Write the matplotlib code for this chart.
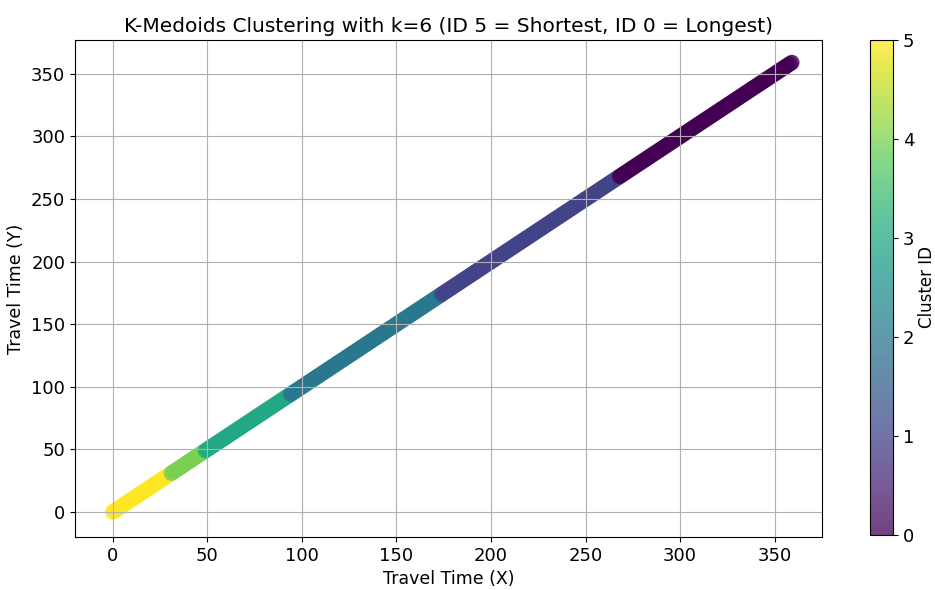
import numpy as np
import matplotlib
matplotlib.use("Agg")
import matplotlib.pyplot as plt

# cluster id -> range of travel times (start, end)
cluster_ids = [5, 4, 3, 2, 1, 0]
range_start = [0, 31, 49, 94, 174, 268]
range_end = [30, 48, 93, 173, 267, 359]

travel_x = []
labels = []
for cid, a, b in zip(cluster_ids, range_start, range_end):
    vals = np.arange(a, b + 1)
    travel_x.extend(vals)
    labels.extend([cid] * len(vals))
travel_x = np.array(travel_x, dtype=float)
travel_y = travel_x.copy()
labels = np.array(labels)

plt.rcParams["font.size"] = 13

fig = plt.figure(figsize=(9.35, 5.9), dpi=100)
ax = fig.add_axes([75 / 935, 53 / 590, 747 / 935, 497 / 590])
cax = fig.add_axes([870 / 935, 55 / 590, 23 / 935, 495 / 590])
sc = ax.scatter(travel_x, travel_y, c=labels, cmap="viridis", s=105,
                alpha=0.75, vmin=0, vmax=5)
cbar = fig.colorbar(sc, cax=cax)
cbar.set_label("Cluster ID", fontsize=12, labelpad=3)
ax.set_title("K-Medoids Clustering with k=6 (ID 5 = Shortest, ID 0 = Longest)",
             fontsize=14.5)
ax.set_xlabel("Travel Time (X)", fontsize=12.5)
ax.set_ylabel("Travel Time (Y)", fontsize=12.5)
ax.set_xlim(-20, 375)
ax.set_ylim(-20, 377)
ax.grid(True)
fig.savefig("out.png")
